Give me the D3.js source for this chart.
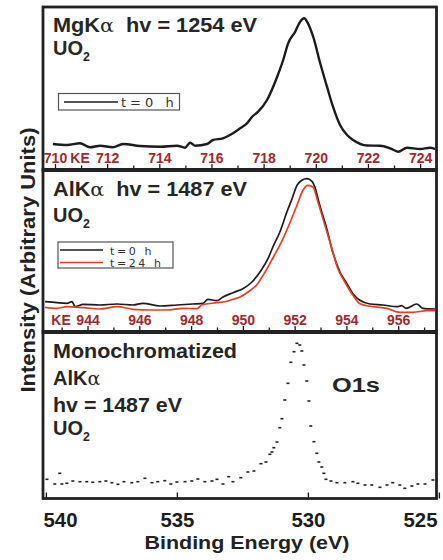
<!DOCTYPE html>
<html>
<head>
<meta charset="utf-8">
<script src="https://cdn.jsdelivr.net/npm/d3@7"></script>
<style>
  body { margin: 0; background: #fff; }
  svg text { font-family: "Liberation Sans", Arial, Helvetica, sans-serif; white-space: pre; }
</style>
</head>
<body>
<svg id="chart" width="443" height="560"></svg>
<script>
// ---- U 4f / O 1s photoemission data (kinetic / binding energy, intensity in arb. units) ----

// MgKα excitation, hv = 1254 eV, kinetic energy (eV)
const mgKE = [709.92,710.46,710.96,711.34,711.73,712.22,712.61,713.26,714.03,714.68,714.99,715.18,715.37,715.83,716.06,716.44,716.71,717.10,717.36,717.56,717.79,718.13,718.52,718.75,718.94,719.21,719.40,719.55,719.70,719.90,720.17,720.43,720.66,720.93,721.20,721.43,721.97,722.47,722.85,723.16,723.50,724.00,724.38,724.58];
const mgT0 = [24,23,24.7,20.7,22.3,20.7,24,22,21.3,22.3,20.3,25.3,22.3,24,28,29.7,33,39.7,44.7,51.3,56.3,68,91.3,108,124.7,136.3,146.3,149.7,144.7,131.3,104.7,81.3,61.3,43,33,28,22.5,22.3,19.7,16.3,20.3,19,20.3,19];

// AlKα excitation, hv = 1487 eV: t = 0 h
const alKE0 = [942.36,942.82,943.21,943.40,943.52,943.83,944.48,945.14,945.76,946.14,946.80,947.46,948.07,948.46,948.65,949.00,949.23,949.62,950.00,950.35,950.66,950.97,951.16,951.43,951.70,951.90,952.09,952.28,952.47,952.67,952.78,952.97,953.24,953.47,953.75,954.02,954.25,954.52,954.91,955.41,955.95,956.14,956.30,956.72,956.95,957.42];
const alT0 = [28.3,27.3,26.7,28.3,23.3,25.7,25,26,25,26.7,24,25,26,26.7,30.7,29.3,33,37.3,41.3,48,58,71.3,83,98,118,131.3,144.7,149.7,151.3,148.7,143,124.7,101.3,78,58,46.3,36.3,29.7,26,25,23.3,24.3,21.7,26,21.7,21];

// AlKα excitation, hv = 1487 eV: t = 24 h
const alKE24 = [942.36,942.82,943.21,943.83,944.48,945.14,945.76,946.41,947.07,947.69,948.23,948.42,949.00,949.39,949.62,949.89,950.20,950.54,950.86,951.18,951.52,951.83,952.09,952.32,952.51,952.71,952.90,953.17,953.44,953.67,953.94,954.25,954.52,955.02,955.56,956.06,956.57,957.11,957.49];
const alT24 = [22.7,21.7,23.3,22.3,21,23.3,20.7,20,20,21.7,21.3,25.3,27.3,28.7,30.7,33,38,45.3,58,73,89.7,108,124.7,139.7,144.7,143,128,104.7,81.3,61.3,48,34.7,26.3,23.3,21.7,17.7,17.7,19.3,19.3];

// Monochromatized AlKα, O 1s region, binding energy (eV)
const o1sBE = [539.96,539.66,539.47,539.39,539.20,538.97,538.70,538.44,538.21,537.94,537.71,537.48,537.25,537.02,536.72,536.49,536.22,535.95,535.73,535.46,535.23,535.00,534.69,534.43,534.20,533.93,533.66,533.47,533.24,533.02,532.86,532.56,532.29,532.06,531.79,531.60,531.45,531.37,531.30,531.18,531.07,530.99,530.88,530.76,530.65,530.53,530.42,530.31,530.23,530.15,530.04,529.96,529.89,529.77,529.66,529.58,529.47,529.39,529.31,529.12,528.89,528.59,528.28,528.09,527.82,527.56,527.25,526.98,526.76,526.49,526.30,526.03,525.80,525.53,525.23];
const o1sI = [18.7,14,24.7,14,14.7,17,16.3,16.3,15.7,16.3,17,15.3,13.7,16.3,15.3,16.3,19.7,15.3,16.3,17.3,14,16,16.3,17,19,16.3,17,18.7,14,21.3,16.3,20.3,26,27,34.3,36,43.7,46,50.3,56,70.3,79.3,98,114.7,135.7,146.3,154.7,153,147,133,117,97,72,56.3,44.7,36,31,24.7,18.7,17,15.3,15.3,16.3,14.7,13,13,10.7,13,15.3,13,9.7,12,14,14,18];

// axis ticks
const keTicks1 = [710,712,714,716,718,720,722,724];
const keMinor1 = [711,713,715,717,719,721,723];
const keTicks2 = [944,946,948,950,952,954,956];
const keMinor2 = [943,945,947,949,951,953,955,957];
const beTicks = [540,535,530,525];

const legend1 = ["t=0 h"];
const legend2 = ["t=0 h", "t=24 h"];

// ---- layout ----
const svg = d3.select("#chart");
const L = 43, R = 436.5, T = 7, B = 498.5;
const sep1 = 170, sep2 = 332;
const ink = "#1c1c1c";
const keRed = "#a3282c";
const lineRed = "#ee3b26";

const x1 = d3.scaleLinear().domain([709.54, 724.61]).range([43, 436]);
const y1 = d3.scaleLinear().domain([0, 160]).range([168, 8]);
const x2 = d3.scaleLinear().domain([942.28, 957.46]).range([43, 436]);
const y2 = d3.scaleLinear().domain([0, 158]).range([330, 172]);
const x3 = d3.scaleLinear().domain([540.11, 525.11]).range([43, 436]);
const y3 = d3.scaleLinear().domain([0, 164]).range([498, 334]);

const defs = svg.append("defs");
function clip(id, top, bottom) {
  defs.append("clipPath").attr("id", id).append("rect")
    .attr("x", L + 1.5).attr("y", top).attr("width", R - L - 3).attr("height", bottom - top);
}
clip("c1", T + 1.5, sep1 - 2);
clip("c2", sep1 + 2, sep2 - 2);
clip("c3", sep2 + 2, B - 1.5);

// ---- panel 1: MgKα ----
const line1 = d3.line().x(d => x1(d[0])).y(d => y1(d[1])).curve(d3.curveMonotoneX);
svg.append("path").attr("clip-path", "url(#c1)")
  .datum(d3.zip(mgKE, mgT0))
  .attr("d", line1).attr("fill", "none").attr("stroke", ink)
  .attr("stroke-width", 2.4).attr("stroke-linejoin", "round");

// ---- panel 2: AlKα ----
const line2 = d3.line().x(d => x2(d[0])).y(d => y2(d[1])).curve(d3.curveMonotoneX);
svg.append("path").attr("clip-path", "url(#c2)")
  .datum(d3.zip(alKE0, alT0))
  .attr("d", line2).attr("fill", "none").attr("stroke", ink).attr("stroke-width", 1.7);
svg.append("path").attr("clip-path", "url(#c2)")
  .datum(d3.zip(alKE24, alT24))
  .attr("d", line2).attr("fill", "none").attr("stroke", lineRed).attr("stroke-width", 1.7);

// ---- panel 3: monochromatized O 1s (point markers) ----
svg.append("g").attr("clip-path", "url(#c3)")
  .selectAll("rect").data(d3.zip(o1sBE, o1sI)).join("rect")
  .attr("x", d => x3(d[0]) - 1.5).attr("y", d => y3(d[1]) - 0.8)
  .attr("width", 3).attr("height", 1.6).attr("fill", "#222");

// ---- kinetic-energy axes (ticks point into the panel) ----
function keAxis(scale, ticks, minor, yPos, keX) {
  const gMinor = svg.append("g").attr("transform", `translate(0,${yPos})`)
    .call(d3.axisTop(scale).tickValues(minor).tickSize(4.5).tickFormat(""));
  const g = svg.append("g").attr("transform", `translate(0,${yPos})`)
    .call(d3.axisTop(scale).tickValues(ticks).tickSize(6).tickPadding(1));
  [gMinor, g].forEach(a => {
    a.select(".domain").remove();
    a.selectAll("line").attr("stroke", ink).attr("stroke-width", 1.3);
  });
  g.selectAll("text").attr("fill", keRed).attr("font-size", 14).attr("font-weight", "bold")
    .style("font-family", '"Liberation Sans", Arial, sans-serif');
  svg.append("text").attr("x", keX).attr("y", yPos - 7).attr("text-anchor", "middle")
    .attr("fill", keRed).attr("font-size", 14).attr("font-weight", "bold").text("KE");
}
keAxis(x1, keTicks1, keMinor1, sep1, 80);
keAxis(x2, keTicks2, keMinor2, sep2, 61);

// ---- binding-energy axis ----
const gx = svg.append("g").attr("transform", `translate(0,${B})`)
  .call(d3.axisBottom(x3).tickValues(beTicks).tickSizeInner(-6).tickSizeOuter(0).tickPadding(14.5));
gx.select(".domain").remove();
gx.selectAll("line").attr("stroke", ink).attr("stroke-width", 1.4);
gx.selectAll("text").attr("fill", ink).attr("font-size", 20).attr("font-weight", "bold")
  .style("font-family", '"Liberation Sans", Arial, sans-serif')
  .attr("textLength", 34).attr("lengthAdjust", "spacingAndGlyphs");
gx.selectAll(".tick").filter(d => d === beTicks[0]).select("text")
  .attr("text-anchor", "start").attr("x", L - x3(beTicks[0]));
gx.selectAll(".tick").filter(d => d === beTicks[beTicks.length - 1]).select("text")
  .attr("text-anchor", "end").attr("x", 437 - x3(beTicks[beTicks.length - 1]));

// ---- frame and panel separators ----
svg.append("rect").attr("x", L).attr("y", T).attr("width", R - L).attr("height", B - T)
  .attr("fill", "none").attr("stroke", "#222").attr("stroke-width", 2.8);
[sep1, sep2].forEach(y => {
  svg.append("line").attr("x1", L - 1.4).attr("x2", R + 1.4).attr("y1", y).attr("y2", y)
    .attr("stroke", "#222").attr("stroke-width", 4);
});

// ---- annotations ----
function label(x, y, parts, size, width) {
  const t = svg.append("text").attr("x", x).attr("y", y).attr("fill", "#262626")
    .attr("font-size", size).attr("font-weight", "bold");
  parts.forEach(p => {
    const s = t.append("tspan").text(p.t);
    if (p.greek) s.style("font-family", '"DejaVu Serif", "Liberation Serif", serif').attr("font-weight", "normal").attr("font-size", size * 0.95);
    if (p.sub) s.attr("font-size", size * 0.62).attr("dy", 6);
  });
  if (width) t.attr("textLength", width).attr("lengthAdjust", "spacingAndGlyphs");
  return t;
}
label(53, 32, [{t: "MgK"}, {t: "α", greek: true}, {t: "  hv = 1254 eV"}], 20, 204);
label(53, 55, [{t: "UO"}, {t: "2", sub: true}], 20);
label(53, 196, [{t: "AlK"}, {t: "α", greek: true}, {t: "  hv = 1487 eV"}], 20, 194);
label(53, 222, [{t: "UO"}, {t: "2", sub: true}], 20);
label(53, 358, [{t: "Monochromatized"}], 20, 184);
label(53, 385, [{t: "AlK"}, {t: "α", greek: true}], 20);
label(53, 412, [{t: "hv = 1487 eV"}], 20, 129);
label(53, 435, [{t: "UO"}, {t: "2", sub: true}], 20);
label(332, 392, [{t: "O1s"}], 20, 48);

// axis titles
svg.append("text").attr("transform", "translate(35,260) rotate(-90)")
  .attr("text-anchor", "middle").attr("fill", "#222").attr("font-size", 20).attr("font-weight", "bold")
  .attr("textLength", 265).attr("lengthAdjust", "spacingAndGlyphs")
  .text("Intensity (Arbitrary Units)");
svg.append("text").attr("x", 247).attr("y", 549).attr("text-anchor", "middle")
  .attr("fill", "#222").attr("font-size", 19).attr("font-weight", "bold")
  .attr("textLength", 205).attr("lengthAdjust", "spacingAndGlyphs")
  .text("Binding Energy (eV)");

// ---- legends ----
const legendFont = '"DejaVu Sans", Verdana, sans-serif';
const lg1 = svg.append("g");
lg1.append("rect").attr("x", 58.5).attr("y", 93.5).attr("width", 121).attr("height", 16.5)
  .attr("fill", "#fff").attr("stroke", "#555").attr("stroke-width", 1.2);
lg1.append("line").attr("x1", 64).attr("x2", 118).attr("y1", 102).attr("y2", 102)
  .attr("stroke", ink).attr("stroke-width", 1.5);
lg1.append("text").attr("x", 121).attr("y", 106.5).attr("font-size", 13).attr("fill", "#333")
  .style("font-family", legendFont).style("letter-spacing", "4px").text(legend1[0]);

const lg2 = svg.append("g");
lg2.append("rect").attr("x", 58).attr("y", 242).attr("width", 115).attr("height", 26)
  .attr("fill", "#fff").attr("stroke", "#555").attr("stroke-width", 1.2);
const lg2Colors = [ink, lineRed];
legend2.forEach((name, i) => {
  const yy = 250 + i * 12.5;
  lg2.append("line").attr("x1", 60).attr("x2", 103).attr("y1", yy).attr("y2", yy)
    .attr("stroke", lg2Colors[i]).attr("stroke-width", 1.5);
  lg2.append("text").attr("x", 110).attr("y", yy + 4.5).attr("font-size", 11).attr("fill", "#333")
    .style("font-family", legendFont).style("letter-spacing", "2.6px").text(name);
});
</script>
</body>
</html>
